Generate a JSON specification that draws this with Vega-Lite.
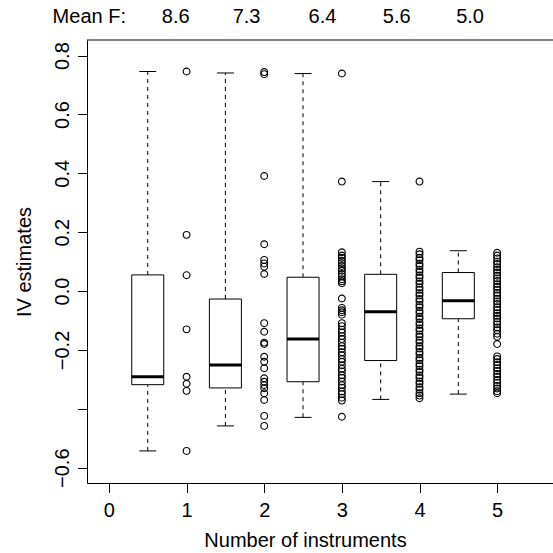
{
  "$schema": "https://vega.github.io/schema/vega-lite/v6.json",
  "width": 466,
  "height": 443,
  "autosize": {"type": "none"},
  "padding": {"left": 87, "top": 40, "right": 0, "bottom": 70},
  "background": "white",
  "config": {
    "view": {"stroke": null},
    "font": "Liberation Sans",
    "axis": {
      "grid": false,
      "domainColor": "black",
      "domainWidth": 1,
      "tickColor": "black",
      "tickWidth": 1,
      "tickSize": 9.5,
      "labelColor": "black",
      "titleColor": "black",
      "labelFontSize": 20,
      "titleFontSize": 20,
      "titleFontWeight": "normal",
      "labelFlush": false,
      "labelOverlap": false
    }
  },
  "datasets": {
    "boxes": [
      {"pos": 0.5, "lower": -0.543, "q1": -0.318, "median": -0.291, "q3": 0.055, "upper": 0.746},
      {"pos": 1.5, "lower": -0.458, "q1": -0.329, "median": -0.251, "q3": -0.027, "upper": 0.741},
      {"pos": 2.5, "lower": -0.429, "q1": -0.308, "median": -0.163, "q3": 0.047, "upper": 0.739},
      {"pos": 3.5, "lower": -0.368, "q1": -0.236, "median": -0.070, "q3": 0.057, "upper": 0.372},
      {"pos": 4.5, "lower": -0.350, "q1": -0.094, "median": -0.033, "q3": 0.063, "upper": 0.137}
    ],
    "points": [
      {"n": 1, "est": 0.746}, {"n": 1, "est": 0.191}, {"n": 1, "est": 0.054}, {"n": 1, "est": -0.130},
      {"n": 1, "est": -0.291}, {"n": 1, "est": -0.315}, {"n": 1, "est": -0.339}, {"n": 1, "est": -0.543},
      {"n": 2, "est": 0.744}, {"n": 2, "est": 0.737}, {"n": 2, "est": 0.391}, {"n": 2, "est": 0.159},
      {"n": 2, "est": 0.106}, {"n": 2, "est": 0.094}, {"n": 2, "est": 0.083}, {"n": 2, "est": 0.058},
      {"n": 2, "est": -0.109}, {"n": 2, "est": -0.138}, {"n": 2, "est": -0.175}, {"n": 2, "est": -0.180},
      {"n": 2, "est": -0.223}, {"n": 2, "est": -0.240}, {"n": 2, "est": -0.262}, {"n": 2, "est": -0.296},
      {"n": 2, "est": -0.308}, {"n": 2, "est": -0.319}, {"n": 2, "est": -0.330}, {"n": 2, "est": -0.347},
      {"n": 2, "est": -0.370}, {"n": 2, "est": -0.424}, {"n": 2, "est": -0.458},
      {"n": 3, "est": 0.739}, {"n": 3, "est": 0.372}, {"n": 3, "est": 0.132}, {"n": 3, "est": 0.121},
      {"n": 3, "est": 0.113}, {"n": 3, "est": 0.103}, {"n": 3, "est": 0.095}, {"n": 3, "est": 0.085},
      {"n": 3, "est": 0.077}, {"n": 3, "est": 0.069}, {"n": 3, "est": 0.058}, {"n": 3, "est": 0.050},
      {"n": 3, "est": 0.040}, {"n": 3, "est": 0.033}, {"n": 3, "est": 0.027}, {"n": 3, "est": -0.025},
      {"n": 3, "est": -0.057}, {"n": 3, "est": -0.065}, {"n": 3, "est": -0.072}, {"n": 3, "est": -0.080},
      {"n": 3, "est": -0.109}, {"n": 3, "est": -0.119}, {"n": 3, "est": -0.131}, {"n": 3, "est": -0.141},
      {"n": 3, "est": -0.153}, {"n": 3, "est": -0.163}, {"n": 3, "est": -0.175}, {"n": 3, "est": -0.187},
      {"n": 3, "est": -0.196}, {"n": 3, "est": -0.208}, {"n": 3, "est": -0.218}, {"n": 3, "est": -0.231},
      {"n": 3, "est": -0.240}, {"n": 3, "est": -0.252}, {"n": 3, "est": -0.264}, {"n": 3, "est": -0.273},
      {"n": 3, "est": -0.286}, {"n": 3, "est": -0.295}, {"n": 3, "est": -0.307}, {"n": 3, "est": -0.319},
      {"n": 3, "est": -0.328}, {"n": 3, "est": -0.341}, {"n": 3, "est": -0.350}, {"n": 3, "est": -0.362},
      {"n": 3, "est": -0.372}, {"n": 3, "est": -0.427},
      {"n": 4, "est": 0.372}, {"n": 4, "est": 0.134}, {"n": 4, "est": 0.125}, {"n": 4, "est": 0.113},
      {"n": 4, "est": 0.105}, {"n": 4, "est": 0.093}, {"n": 4, "est": 0.085}, {"n": 4, "est": 0.073},
      {"n": 4, "est": 0.065}, {"n": 4, "est": 0.053}, {"n": 4, "est": 0.045}, {"n": 4, "est": 0.033},
      {"n": 4, "est": 0.025}, {"n": 4, "est": 0.013}, {"n": 4, "est": 0.004}, {"n": 4, "est": -0.007},
      {"n": 4, "est": -0.015}, {"n": 4, "est": -0.027}, {"n": 4, "est": -0.035}, {"n": 4, "est": -0.047},
      {"n": 4, "est": -0.055}, {"n": 4, "est": -0.067}, {"n": 4, "est": -0.075}, {"n": 4, "est": -0.087},
      {"n": 4, "est": -0.095}, {"n": 4, "est": -0.107}, {"n": 4, "est": -0.115}, {"n": 4, "est": -0.127},
      {"n": 4, "est": -0.135}, {"n": 4, "est": -0.147}, {"n": 4, "est": -0.155}, {"n": 4, "est": -0.167},
      {"n": 4, "est": -0.175}, {"n": 4, "est": -0.187}, {"n": 4, "est": -0.195}, {"n": 4, "est": -0.207},
      {"n": 4, "est": -0.215}, {"n": 4, "est": -0.227}, {"n": 4, "est": -0.235}, {"n": 4, "est": -0.247},
      {"n": 4, "est": -0.255}, {"n": 4, "est": -0.267}, {"n": 4, "est": -0.275}, {"n": 4, "est": -0.287},
      {"n": 4, "est": -0.295}, {"n": 4, "est": -0.307}, {"n": 4, "est": -0.315}, {"n": 4, "est": -0.327},
      {"n": 4, "est": -0.335}, {"n": 4, "est": -0.347}, {"n": 4, "est": -0.355}, {"n": 4, "est": -0.364},
      {"n": 5, "est": 0.130}, {"n": 5, "est": 0.121}, {"n": 5, "est": 0.111}, {"n": 5, "est": 0.100},
      {"n": 5, "est": 0.092}, {"n": 5, "est": 0.081}, {"n": 5, "est": 0.072}, {"n": 5, "est": 0.063},
      {"n": 5, "est": 0.052}, {"n": 5, "est": 0.043}, {"n": 5, "est": 0.034}, {"n": 5, "est": 0.023},
      {"n": 5, "est": 0.014}, {"n": 5, "est": 0.005}, {"n": 5, "est": -0.006}, {"n": 5, "est": -0.015},
      {"n": 5, "est": -0.026}, {"n": 5, "est": -0.035}, {"n": 5, "est": -0.044}, {"n": 5, "est": -0.055},
      {"n": 5, "est": -0.064}, {"n": 5, "est": -0.075}, {"n": 5, "est": -0.084}, {"n": 5, "est": -0.093},
      {"n": 5, "est": -0.104}, {"n": 5, "est": -0.113}, {"n": 5, "est": -0.124}, {"n": 5, "est": -0.133},
      {"n": 5, "est": -0.145}, {"n": 5, "est": -0.155}, {"n": 5, "est": -0.180}, {"n": 5, "est": -0.222},
      {"n": 5, "est": -0.231}, {"n": 5, "est": -0.242}, {"n": 5, "est": -0.251}, {"n": 5, "est": -0.262},
      {"n": 5, "est": -0.271}, {"n": 5, "est": -0.282}, {"n": 5, "est": -0.291}, {"n": 5, "est": -0.302},
      {"n": 5, "est": -0.311}, {"n": 5, "est": -0.322}, {"n": 5, "est": -0.331}, {"n": 5, "est": -0.340},
      {"n": 5, "est": -0.347}
    ],
    "meanF": [
      {"pos": -0.253, "label": "Mean F:"},
      {"pos": 0.860, "label": "8.6"},
      {"pos": 1.773, "label": "7.3"},
      {"pos": 2.750, "label": "6.4"},
      {"pos": 3.706, "label": "5.6"},
      {"pos": 4.651, "label": "5.0"}
    ]
  },
  "layer": [
    {
      "data": {"name": "boxes"},
      "mark": {"type": "rule", "color": "black", "strokeWidth": 1, "strokeDash": [4, 4]},
      "encoding": {
        "x": {"field": "pos", "type": "quantitative",
          "scale": {"domain": [-0.218, 5.655], "nice": false, "zero": false},
          "axis": {
            "values": [0, 1, 2, 3, 4, 5],
            "format": "d",
            "title": "Number of instruments",
            "titleX": 218, "titleY": 63,
            "titleAlign": "center", "titleBaseline": "alphabetic", "titleAnchor": null,
            "labelPadding": 8
          }
        },
        "y": {"field": "lower", "type": "quantitative",
          "scale": {"domain": [-0.652, 0.853], "nice": false, "zero": false},
          "axis": {
            "values": [-0.6, -0.4, -0.2, 0, 0.2, 0.4, 0.6, 0.8],
            "labelExpr": "abs(datum.value + 0.4) < 0.01 ? '' : format(datum.value, '.1f')",
            "labelAngle": 270, "labelAlign": "center", "labelBaseline": "alphabetic",
            "labelPadding": 9.5,
            "title": "IV estimates",
            "titleAngle": 270, "titleX": -57, "titleY": 221.5,
            "titleAlign": "center", "titleBaseline": "alphabetic", "titleAnchor": null
          }
        },
        "y2": {"field": "q1"}
      }
    },
    {
      "data": {"name": "boxes"},
      "mark": {"type": "rule", "color": "black", "strokeWidth": 1, "strokeDash": [4, 4]},
      "encoding": {
        "x": {"field": "pos", "type": "quantitative", "scale": {"domain": [-0.218, 5.655], "nice": false, "zero": false}},
        "y": {"field": "q3", "type": "quantitative", "scale": {"domain": [-0.652, 0.853], "nice": false, "zero": false}},
        "y2": {"field": "upper"}
      }
    },
    {
      "data": {"name": "boxes"},
      "mark": {"type": "bar", "width": 32, "fill": "white", "stroke": "black", "strokeWidth": 1},
      "encoding": {
        "x": {"field": "pos", "type": "quantitative", "scale": {"domain": [-0.218, 5.655], "nice": false, "zero": false}},
        "y": {"field": "q1", "type": "quantitative", "scale": {"domain": [-0.652, 0.853], "nice": false, "zero": false}},
        "y2": {"field": "q3"}
      }
    },
    {
      "data": {"name": "boxes"},
      "mark": {"type": "tick", "orient": "horizontal", "size": 17, "thickness": 1, "color": "black", "opacity": 1},
      "encoding": {
        "x": {"field": "pos", "type": "quantitative", "scale": {"domain": [-0.218, 5.655], "nice": false, "zero": false}},
        "y": {"field": "lower", "type": "quantitative", "scale": {"domain": [-0.652, 0.853], "nice": false, "zero": false}}
      }
    },
    {
      "data": {"name": "boxes"},
      "mark": {"type": "tick", "orient": "horizontal", "size": 17, "thickness": 1, "color": "black", "opacity": 1},
      "encoding": {
        "x": {"field": "pos", "type": "quantitative", "scale": {"domain": [-0.218, 5.655], "nice": false, "zero": false}},
        "y": {"field": "upper", "type": "quantitative", "scale": {"domain": [-0.652, 0.853], "nice": false, "zero": false}}
      }
    },
    {
      "data": {"name": "boxes"},
      "mark": {"type": "tick", "orient": "horizontal", "size": 32, "thickness": 3, "color": "black", "opacity": 1},
      "encoding": {
        "x": {"field": "pos", "type": "quantitative", "scale": {"domain": [-0.218, 5.655], "nice": false, "zero": false}},
        "y": {"field": "median", "type": "quantitative", "scale": {"domain": [-0.652, 0.853], "nice": false, "zero": false}}
      }
    },
    {
      "data": {"name": "points"},
      "mark": {"type": "point", "shape": "circle", "filled": false, "size": 46, "stroke": "black", "strokeWidth": 1.15, "opacity": 1},
      "encoding": {
        "x": {"field": "n", "type": "quantitative", "scale": {"domain": [-0.218, 5.655], "nice": false, "zero": false}},
        "y": {"field": "est", "type": "quantitative", "scale": {"domain": [-0.652, 0.853], "nice": false, "zero": false}}
      }
    },
    {
      "data": {"name": "meanF"},
      "mark": {"type": "text", "fontSize": 20, "color": "black", "align": "center", "baseline": "alphabetic"},
      "encoding": {
        "x": {"field": "pos", "type": "quantitative", "scale": {"domain": [-0.218, 5.655], "nice": false, "zero": false}},
        "y": {"datum": 0.910, "type": "quantitative", "scale": {"domain": [-0.652, 0.853], "nice": false, "zero": false}},
        "text": {"field": "label"}
      }
    },
    {
      "data": {"values": [{"top": 0.853}]},
      "mark": {"type": "rule", "color": "black", "strokeWidth": 1},
      "encoding": {
        "y": {"field": "top", "type": "quantitative", "scale": {"domain": [-0.652, 0.853], "nice": false, "zero": false}}
      }
    }
  ]
}
